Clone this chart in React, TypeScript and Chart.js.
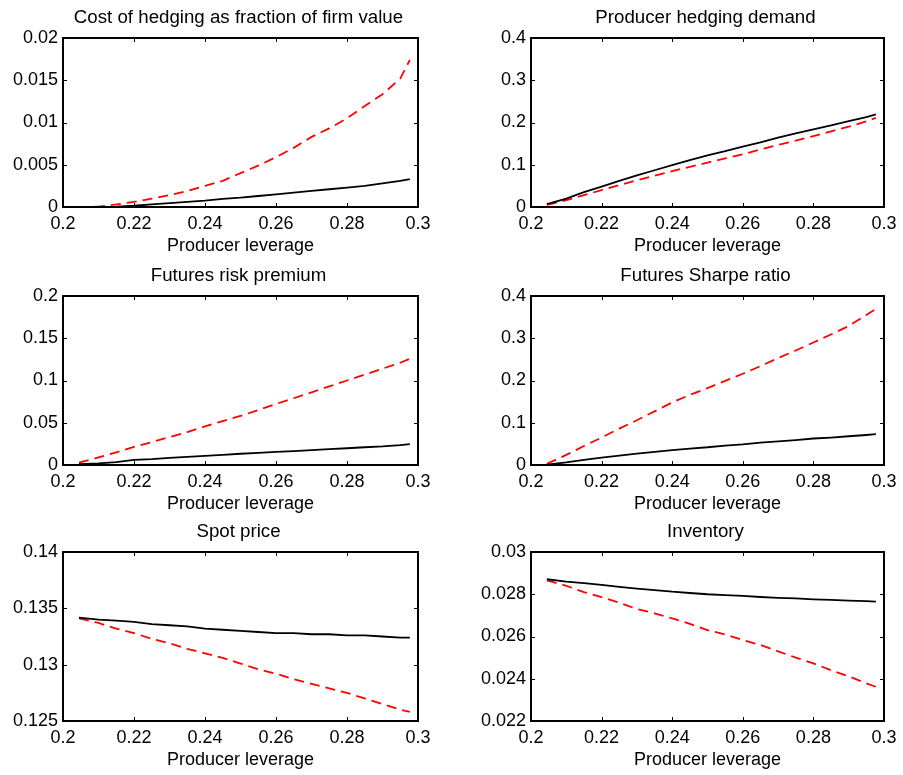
import { useEffect, useRef } from "react";
import { Chart, registerables } from "chart.js";
Chart.register(...registerables);

// ---- data ----
const leverage = [0.2045, 0.21, 0.215, 0.22, 0.225, 0.23, 0.235, 0.24, 0.245, 0.25, 0.255, 0.26, 0.265, 0.27, 0.275, 0.28, 0.285, 0.29, 0.295, 0.2977];

const costBlack = [0, 0, 0.00005, 0.00015, 0.0003, 0.00045, 0.0006, 0.00075, 0.00095, 0.0011, 0.0013, 0.0015, 0.0017, 0.0019, 0.0021, 0.0023, 0.0025, 0.0028, 0.0031, 0.0033];
const costRed = [0, 0.00005, 0.0003, 0.0006, 0.001, 0.0014, 0.0019, 0.0025, 0.0031, 0.004, 0.0049, 0.0059, 0.007, 0.0083, 0.0093, 0.0105, 0.01195, 0.01335, 0.0152, 0.0174];

const demandBlack = [0.007, 0.02, 0.035, 0.048, 0.062, 0.075, 0.087, 0.099, 0.111, 0.122, 0.132, 0.143, 0.153, 0.164, 0.174, 0.184, 0.193, 0.203, 0.213, 0.219];
const demandRed = [0.005, 0.016, 0.028, 0.04, 0.052, 0.063, 0.074, 0.085, 0.095, 0.105, 0.115, 0.125, 0.136, 0.147, 0.157, 0.168, 0.179, 0.19, 0.203, 0.211];

const premiumBlack = [0.001, 0.002, 0.0035, 0.006, 0.007, 0.0085, 0.0095, 0.0107, 0.012, 0.0133, 0.0143, 0.0155, 0.0165, 0.0177, 0.0188, 0.0198, 0.021, 0.022, 0.0235, 0.0246];
const premiumRed = [0.0027, 0.009, 0.015, 0.0214, 0.027, 0.033, 0.039, 0.0456, 0.052, 0.058, 0.065, 0.0722, 0.079, 0.086, 0.093, 0.1, 0.107, 0.114, 0.121, 0.1258];

const sharpeBlack = [0.001, 0.006, 0.012, 0.0175, 0.022, 0.027, 0.031, 0.035, 0.039, 0.042, 0.046, 0.049, 0.053, 0.056, 0.059, 0.0627, 0.065, 0.068, 0.071, 0.073];
const sharpeRed = [0.003, 0.024, 0.045, 0.065, 0.086, 0.106, 0.127, 0.148, 0.166, 0.182, 0.199, 0.216, 0.234, 0.253, 0.271, 0.29, 0.309, 0.329, 0.355, 0.369];

const spotBlack = [0.13417, 0.134, 0.1339, 0.1338, 0.1336, 0.1335, 0.1334, 0.1332, 0.1331, 0.133, 0.1329, 0.1328, 0.1328, 0.1327, 0.1327, 0.1326, 0.1326, 0.1325, 0.1324, 0.1324];
const spotRed = [0.1341, 0.1337, 0.1332, 0.1328, 0.1323, 0.1319, 0.1314, 0.131, 0.1306, 0.1301, 0.1296, 0.1292, 0.1287, 0.1283, 0.1279, 0.1275, 0.127, 0.1265, 0.126, 0.1258];

const inventoryBlack = [0.02871, 0.0286, 0.02853, 0.02844, 0.02835, 0.02827, 0.0282, 0.02812, 0.02806, 0.028, 0.02796, 0.02792, 0.02787, 0.02783, 0.0278, 0.02776, 0.02773, 0.0277, 0.02767, 0.02765];
const inventoryRed = [0.02866, 0.0284, 0.0281, 0.02786, 0.0276, 0.0273, 0.0271, 0.02686, 0.0266, 0.0263, 0.0261, 0.02583, 0.0256, 0.0253, 0.025, 0.02473, 0.0244, 0.02412, 0.02378, 0.02362];

const xTicks = [0.2, 0.22, 0.24, 0.26, 0.28, 0.3];
const costTicks = [0, 0.005, 0.01, 0.015, 0.02];
const demandTicks = [0, 0.1, 0.2, 0.3, 0.4];
const premiumTicks = [0, 0.05, 0.1, 0.15, 0.2];
const sharpeTicks = [0, 0.1, 0.2, 0.3, 0.4];
const spotTicks = [0.125, 0.13, 0.135, 0.14];
const inventoryTicks = [0.022, 0.024, 0.026, 0.028, 0.03];

const xLabel = "Producer leverage";

const panels = [
  { title: "Cost of hedging as fraction of firm value", black: costBlack, red: costRed, yTicks: costTicks, col: 0, row: 0 },
  { title: "Producer hedging demand", black: demandBlack, red: demandRed, yTicks: demandTicks, col: 1, row: 0 },
  { title: "Futures risk premium", black: premiumBlack, red: premiumRed, yTicks: premiumTicks, col: 0, row: 1 },
  { title: "Futures Sharpe ratio", black: sharpeBlack, red: sharpeRed, yTicks: sharpeTicks, col: 1, row: 1 },
  { title: "Spot price", black: spotBlack, red: spotRed, yTicks: spotTicks, col: 0, row: 2 },
  { title: "Inventory", black: inventoryBlack, red: inventoryRed, yTicks: inventoryTicks, col: 1, row: 2 },
];

// ---- layout ----
const FONT = "'Liberation Sans', Arial, Helvetica, sans-serif";
const FS = 18;
const TITLE_FS = 18.7;
const CANVAS_H = 258;
const ROW_TOPS = [0, 258, 514];
const COL_LEFTS = [0, 450];
const COL_WIDTHS = [450, 453];
const Y_AXIS_W = [63, 81];
const RIGHT_PAD = [32, 17];
const TOP_PAD = 38;
const X_AXIS_H = 51;

const fmt = (v: number) => String(Number(v.toFixed(5)));

const framePlugin = {
  id: "frame",
  afterDatasetsDraw(chart: any, _args: any, opts: any) {
    const { ctx, chartArea: a, scales } = chart;
    const x = scales.x;
    const y = scales.y;
    ctx.save();
    ctx.strokeStyle = "#000";
    ctx.lineWidth = 1;
    ctx.beginPath();
    const tl = 4;
    for (const t of x.ticks) {
      const px = Math.round(x.getPixelForValue(t.value)) + 0.5;
      ctx.moveTo(px, a.bottom);
      ctx.lineTo(px, a.bottom - tl);
      ctx.moveTo(px, a.top);
      ctx.lineTo(px, a.top + tl);
    }
    for (const t of y.ticks) {
      const py = Math.round(y.getPixelForValue(t.value)) + 0.5;
      ctx.moveTo(a.left, py);
      ctx.lineTo(a.left + tl, py);
      ctx.moveTo(a.right, py);
      ctx.lineTo(a.right - tl, py);
    }
    ctx.stroke();
    ctx.lineWidth = 2;
    ctx.strokeRect(a.left, a.top, a.right - a.left, a.bottom - a.top);
    ctx.fillStyle = "#000";
    ctx.font = `${TITLE_FS}px ${FONT}`;
    ctx.textAlign = "center";
    ctx.textBaseline = "alphabetic";
    ctx.fillText(opts.title, (a.left + a.right) / 2 - 2, a.top - 15);
    ctx.restore();
  },
};

function Panel({ p }: { p: (typeof panels)[number] }) {
  const ref = useRef<HTMLCanvasElement | null>(null);
  useEffect(() => {
    if (!ref.current) return;
    const toPts = (arr: number[]) => leverage.map((x, i) => ({ x, y: arr[i] }));
    const yMin = p.yTicks[0];
    const yMax = p.yTicks[p.yTicks.length - 1];
    const chart = new Chart(ref.current, {
      type: "line",
      data: {
        datasets: [
          {
            data: toPts(p.black),
            borderColor: "#000000",
            borderWidth: 1.8,
            pointRadius: 0,
            tension: 0,
            fill: false,
          },
          {
            data: toPts(p.red),
            borderColor: "#ff0000",
            borderWidth: 1.8,
            borderDash: [10, 6],
            pointRadius: 0,
            tension: 0,
            fill: false,
          },
        ],
      },
      options: {
        animation: false,
        responsive: false,
        maintainAspectRatio: false,
        events: [],
        layout: { padding: { top: TOP_PAD, right: RIGHT_PAD[p.col], left: 0, bottom: 0 } },
        plugins: {
          legend: { display: false },
          tooltip: { enabled: false },
          title: { display: false },
          frame: { title: p.title },
        } as any,
        scales: {
          x: {
            type: "linear",
            min: 0.2,
            max: 0.3,
            grid: { display: false, drawTicks: false },
            border: { display: false },
            afterBuildTicks: (s: any) => {
              s.ticks = xTicks.map((v) => ({ value: v }));
            },
            afterFit: (s: any) => {
              s.height = X_AXIS_H;
            },
            ticks: {
              color: "#000",
              font: { family: FONT, size: FS },
              padding: 6.5,
              maxRotation: 0,
              autoSkip: false,
              callback: (v: any) => fmt(Number(v)),
            },
            title: {
              display: true,
              text: xLabel,
              color: "#000",
              font: { family: FONT, size: FS },
              padding: { top: 0, bottom: 0.8 },
            },
          },
          y: {
            type: "linear",
            min: yMin,
            max: yMax,
            grid: { display: false, drawTicks: false },
            border: { display: false },
            afterBuildTicks: (s: any) => {
              s.ticks = p.yTicks.map((v) => ({ value: v }));
            },
            afterFit: (s: any) => {
              s.width = Y_AXIS_W[p.col];
            },
            ticks: {
              color: "#000",
              font: { family: FONT, size: FS },
              padding: 5,
              autoSkip: false,
              callback: (v: any) => fmt(Number(v)),
            },
          },
        },
      },
      plugins: [framePlugin],
    });
    return () => chart.destroy();
  }, [p]);
  return (
    <canvas
      ref={ref}
      width={COL_WIDTHS[p.col]}
      height={CANVAS_H}
      style={{
        position: "absolute",
        left: COL_LEFTS[p.col],
        top: ROW_TOPS[p.row],
        width: COL_WIDTHS[p.col],
        height: CANVAS_H,
      }}
    />
  );
}

export default function App() {
  return (
    <div style={{ position: "absolute", left: 0, top: 0, width: 903, height: 775, background: "#fff" }}>
      {panels.map((p) => (
        <Panel key={p.title} p={p} />
      ))}
    </div>
  );
}
